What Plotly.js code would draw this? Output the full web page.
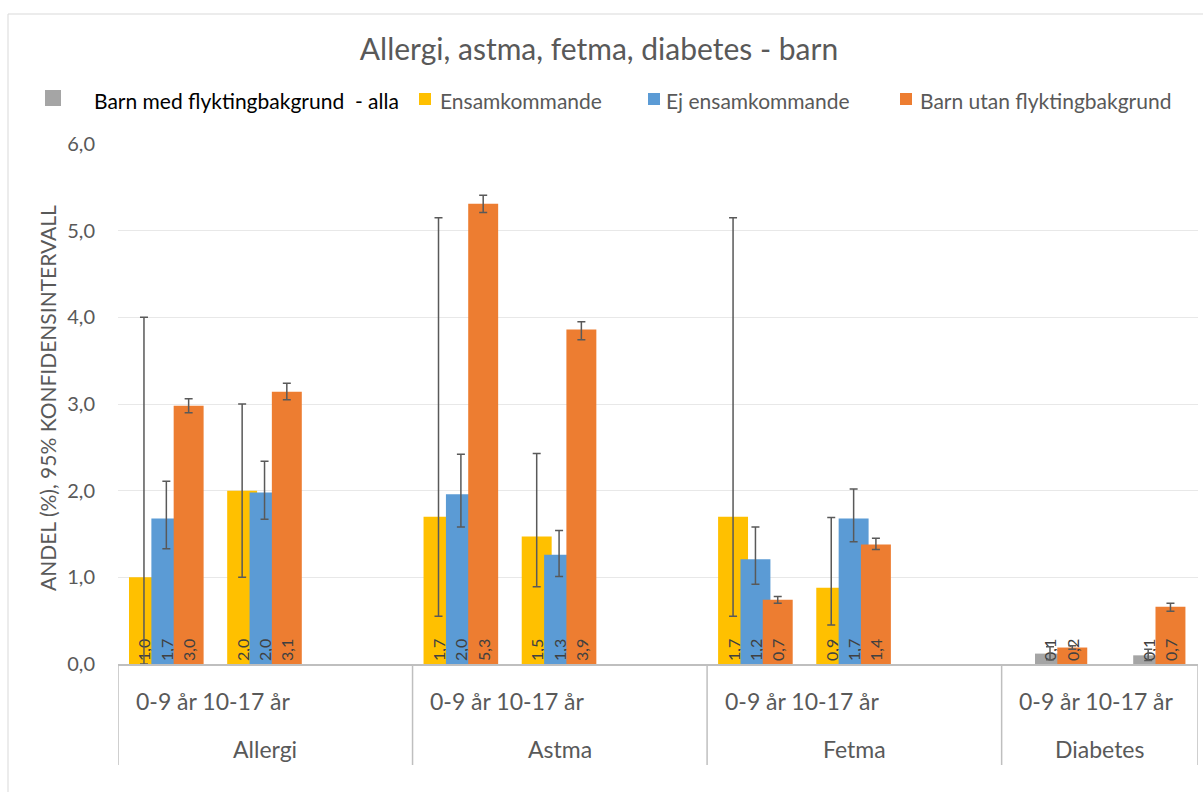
<!DOCTYPE html>
<html>
<head>
<meta charset="utf-8">
<script src="https://cdn.plot.ly/plotly-3.0.1.min.js"></script>
<style>html,body{margin:0;padding:0;background:#fff;}#chart{width:1203px;height:792px;}</style>
</head>
<body>
<div id="chart"></div>
<script>
// ---- data ----
const groups = ['Allergi', 'Astma', 'Fetma', 'Diabetes'];
const ages = ['0-9 år', '10-17 år'];
const slotsPerGroup = [3, 3, 3, 2];
const seriesNames = ['Barn med flyktingbakgrund\u00a0 - alla', 'Ensamkommande', 'Ej ensamkommande', 'Barn utan flyktingbakgrund'];
// order: Allergi 0-9, Allergi 10-17, Astma 0-9, Astma 10-17, Fetma 0-9, Fetma 10-17, Diabetes 0-9, Diabetes 10-17
const alla   = [null, null, null, null, null, null, 0.12, 0.10];
const allaLo = [null, null, null, null, null, null, 0.05, 0.04];
const allaHi = [null, null, null, null, null, null, 0.20, 0.17];
const ens    = [1.00, 2.00, 1.70, 1.47, 1.70, 0.88, null, null];
const ensLo  = [0.00, 1.00, 0.55, 0.89, 0.55, 0.45, null, null];
const ensHi  = [4.00, 3.00, 5.15, 2.43, 5.15, 1.69, null, null];
const ej     = [1.68, 1.98, 1.96, 1.26, 1.21, 1.68, null, null];
const ejLo   = [1.33, 1.67, 1.58, 1.01, 0.92, 1.41, null, null];
const ejHi   = [2.11, 2.34, 2.42, 1.54, 1.58, 2.02, null, null];
const utan   = [2.98, 3.14, 5.31, 3.86, 0.74, 1.38, 0.19, 0.66];
const utanLo = [2.90, 3.05, 5.21, 3.74, 0.70, 1.32, 0.17, 0.61];
const utanHi = [3.06, 3.24, 5.41, 3.95, 0.78, 1.45, 0.21, 0.70];
const yTicks = [0, 1, 2, 3, 4, 5, 6];

// ---- layout helpers ----
const FONT = 'Lato, "Open Sans", sans-serif';
const GREY = '#595959';
const groupStart = [];
let acc = 0;
slotsPerGroup.forEach(n => { groupStart.push(acc); acc += n; });
const totalSlots = acc;
const xc = [];
groups.forEach((g, gi) => ages.forEach((a, ai) => xc.push(groupStart[gi] + ai + 0.5)));

const L = 118, R = 1198, T = 144, B = 664;
const px2x = px => (px - L) / (R - L);
const py2y = py => (B - py) / (B - T);

const fmt = v => v == null ? '' : v.toFixed(1).replace('.', ',');
const barW = 0.305;

function mkBar(name, vals, lo, hi, color, off) {
  return {
    type: 'bar', name: name, x: xc, y: vals,
    width: barW, offset: off,
    marker: {color: color, line: {width: 0}},
    text: vals.map(fmt), textposition: 'inside', insidetextanchor: 'start',
    textangle: -90, textfont: {family: FONT, size: 16, color: '#404040'},
    constraintext: 'none', cliponaxis: false,
    error_y: {type: 'data', symmetric: false,
      array: vals.map((v, i) => v == null ? null : hi[i] - v),
      arrayminus: vals.map((v, i) => v == null ? null : v - lo[i]),
      color: '#595959', thickness: 1.5, width: 4},
    showlegend: false, hoverinfo: 'skip'
  };
}

const colors = ['#a5a5a5', '#ffc000', '#5b9bd5', '#ed7d31'];
const traces = [
  mkBar(seriesNames[1], ens, ensLo, ensHi, colors[1], -0.5 + 0.112),
  mkBar(seriesNames[0], alla, allaLo, allaHi, colors[0], -0.5 + 0.34),
  mkBar(seriesNames[2], ej, ejLo, ejHi, colors[2], -0.5 + 0.34),
  mkBar(seriesNames[3], utan, utanLo, utanHi, colors[3], -0.5 + 0.567)
];

const shapes = [];
const annotations = [];
// category boxes
const dividers = groupStart.concat([totalSlots]);
dividers.forEach(d => shapes.push({type: 'line', xref: 'x', yref: 'paper', x0: d, x1: d, y0: 0, y1: py2y(765),
  line: {color: '#bfbfbf', width: 1.5}, layer: 'above'}));
groups.forEach((g, gi) => {
  annotations.push({xref: 'x', yref: 'paper', x: groupStart[gi] + 0.97, y: py2y(701), text: ages.join(' '),
    showarrow: false, xanchor: 'center', yanchor: 'middle', font: {family: FONT, size: 23, color: GREY}});
  annotations.push({xref: 'x', yref: 'paper', x: groupStart[gi] + slotsPerGroup[gi] / 2, y: py2y(749), text: g,
    showarrow: false, xanchor: 'center', yanchor: 'middle', font: {family: FONT, size: 23, color: GREY}});
});
// outer chart border
shapes.push({type: 'line', xref: 'paper', yref: 'paper', x0: px2x(8), x1: px2x(1210), y0: py2y(14), y1: py2y(14), line: {color: '#d9d9d9', width: 1}});
shapes.push({type: 'line', xref: 'paper', yref: 'paper', x0: px2x(8), x1: px2x(8), y0: py2y(14), y1: py2y(800), line: {color: '#d9d9d9', width: 1}});
// y axis title
annotations.push({xref: 'paper', yref: 'paper', x: px2x(47), y: py2y(398), text: 'ANDEL (%), 95% KONFIDENSINTERVALL', textangle: -90,
  showarrow: false, xanchor: 'center', yanchor: 'middle', font: {family: FONT, size: 21, color: GREY}});
// legend (custom)
const legItems = [
  {sq: [45, 61, 90, 106], tx: 92, color: colors[0], txtColor: '#000000'},
  {sq: [419, 431, 93, 105], tx: 438, color: colors[1], txtColor: GREY},
  {sq: [648, 660, 93, 105], tx: 664, color: colors[2], txtColor: GREY},
  {sq: [900, 912, 93, 105], tx: 918, color: colors[3], txtColor: GREY}
];
legItems.forEach((it, i) => {
  shapes.push({type: 'rect', xref: 'paper', yref: 'paper', x0: px2x(it.sq[0]), x1: px2x(it.sq[1]), y0: py2y(it.sq[2]), y1: py2y(it.sq[3]),
    fillcolor: it.color, line: {width: 0}});
  annotations.push({xref: 'paper', yref: 'paper', x: px2x(it.tx), y: py2y(100), text: seriesNames[i], showarrow: false,
    xanchor: 'left', yanchor: 'middle', font: {family: FONT, size: 21, color: it.txtColor}});
});

const layout = {
  width: 1203, height: 792,
  margin: {l: L, r: 1203 - R, t: T, b: 792 - B, pad: 0},
  paper_bgcolor: '#ffffff', plot_bgcolor: '#ffffff',
  separators: ', ',
  barmode: 'overlay',
  title: {text: 'Allergi, astma, fetma, diabetes - barn', x: 599 / 1203, xanchor: 'center', y: 1 - 49 / 792, yanchor: 'middle', yref: 'container',
    font: {family: FONT, size: 30, color: GREY}},
  xaxis: {range: [0, totalSlots], showgrid: false, zeroline: false, showticklabels: false, ticks: '',
    showline: true, linecolor: '#bfbfbf', linewidth: 1.5, fixedrange: true},
  yaxis: {range: [0, 6], tickvals: yTicks, tickformat: '.1f', showgrid: true, gridcolor: '#e8e8e8', gridwidth: 1,
    zeroline: false, showline: false, ticks: '', ticklabelstandoff: 22,
    tickfont: {family: FONT, size: 20, color: GREY}, fixedrange: true},
  uniformtext: {mode: 'show', minsize: 16},
  shapes: shapes, annotations: annotations,
  showlegend: false
};

Plotly.newPlot('chart', traces, layout, {displayModeBar: false, staticPlot: true});
</script>
</body>
</html>
